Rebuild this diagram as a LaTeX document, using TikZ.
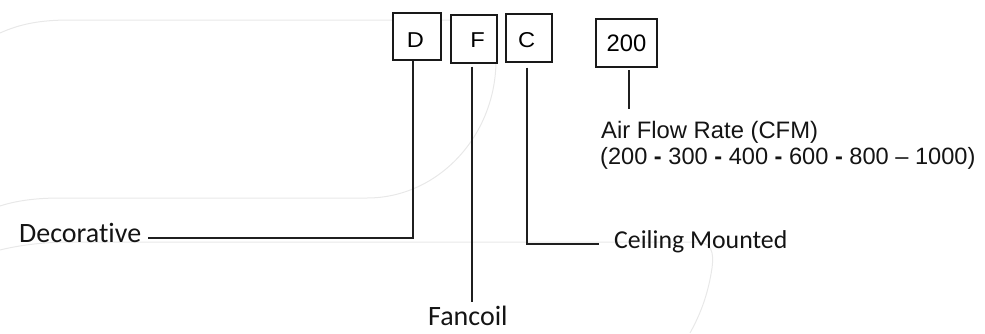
\documentclass[tikz,border=0pt]{standalone}
\usepackage{fontspec}
\usepackage{graphicx}
\setmainfont{Liberation Sans}
\newfontfamily\calfont[Ligatures={NoCommon}]{Carlito}
\newfontfamily\arlfont[Ligatures=TeX]{Liberation Sans}
\newcommand{\wide}[1]{\scalebox{1.1}[1]{#1}}
\begin{document}
\begin{tikzpicture}[x=1pt,y=-1pt,
  codebox/.style={draw=black!90,line width=1.8pt,fill=white,inner sep=0pt,
    text depth=0pt,font=\arlfont\fontsize{21.5}{24}\selectfont},
  lead/.style={draw=black!88,line width=1.8pt},
  label/.style={inner sep=0pt,anchor=base west,text=black!92},
  bgline/.style={draw=black!9,line width=1pt}]
\useasboundingbox (0,0) rectangle (985,333);
% faint background curves
\draw[bgline] (0,33) .. controls (20,24) and (40,20) .. (70,20) -- (450,20)
  .. controls (480,20) and (496,35) .. (496,60)
  .. controls (496,136) and (438,198) .. (367,198) -- (60,198)
  .. controls (35,198) and (15,201) .. (0,206);
\draw[bgline] (0,250) .. controls (20,245) and (45,242) .. (70,242) -- (695,242)
  .. controls (712,242) and (714,252) .. (712,268)
  .. controls (708,295) and (700,315) .. (690,333);
% code boxes
\node[codebox,minimum width=48pt,minimum height=47pt,text height=21.6pt] (D) at (417,36.5) {\wide{D}\hspace*{3pt}};
\node[codebox,minimum width=46pt,minimum height=48pt,text height=17.2pt] (F) at (474,38.7) {\hspace*{7pt}\wide{F}};
\node[codebox,minimum width=46pt,minimum height=48pt,text height=19.2pt] (C) at (529,37.7) {\wide{C}\hspace*{4.6pt}};
\node[codebox,minimum width=61pt,minimum height=48pt,text height=16pt,font=\arlfont\fontsize{23.8}{26}\selectfont] (R) at (626.5,43) {200};
% labels
\node[label,font=\calfont\fontsize{28}{32}\selectfont] (dec) at (19,242) {Decorative};
\node[label,font=\calfont\fontsize{28}{32}\selectfont] (fan) at (428,325) {Fancoil};
\node[label,font=\calfont\fontsize{25.8}{30}\selectfont] (ceil) at (614,248) {Ceiling Mounted};
\node[label,font=\arlfont\fontsize{23.8}{25}\selectfont] (air) at (601,138) {Air Flow Rate (CFM)};
\node[label,font=\arlfont\fontsize{23.6}{25}\selectfont] (rng) at (600,164.5) {(200 \textbf{-} 300 \textbf{-} 400 \textbf{-} 600 \textbf{-} 800 – 1000)};
% connector ends
\coordinate (dend) at (148,238);
\coordinate (fend) at (472.3,301.7);
\coordinate (cend) at (599.3,244.3);
\coordinate (rend) at (629,109);
% connectors
\draw[lead] ([xshift=-4.3pt]D.south) |- (dend);
\draw[lead] ([shift={(-1.7,3)}]F.south) -- (fend);
\draw[lead] ([shift={(-1.7,5)}]C.south) |- (cend);
\draw[lead] ([shift={(2.5,2.5)}]R.south) -- (rend);
\end{tikzpicture}
\end{document}
